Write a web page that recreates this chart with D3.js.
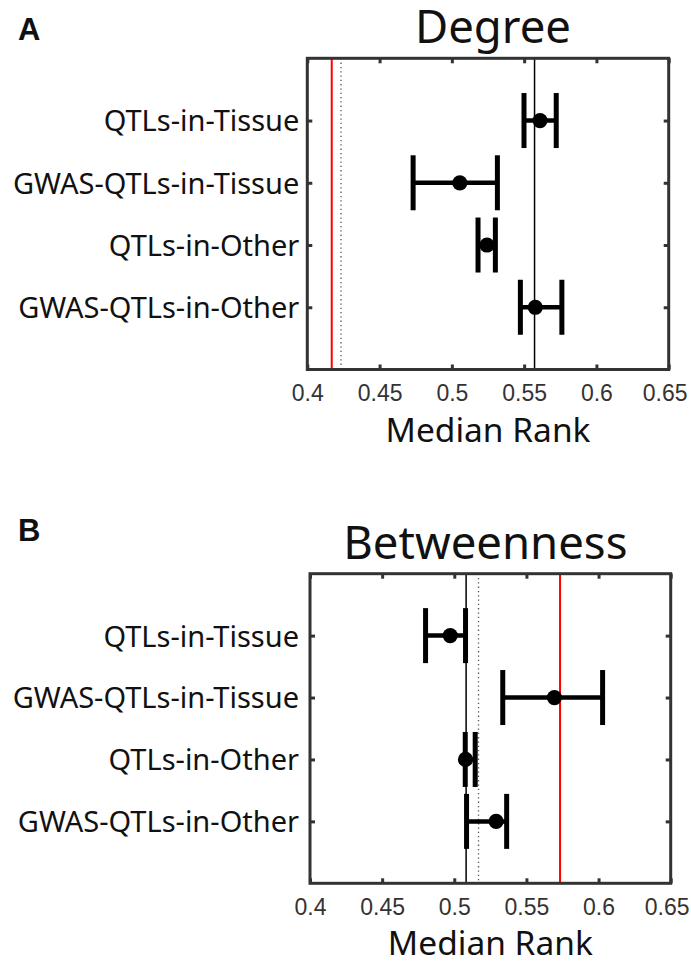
<!DOCTYPE html>
<html>
<head>
<meta charset="utf-8">
<script src="https://cdn.jsdelivr.net/npm/d3@7"></script>
<style>
  body { margin: 0; background: #fff; }
  svg { display: block; }
</style>
</head>
<body>
<script>
// categories (top to bottom)
const categories = ["QTLs-in-Tissue", "GWAS-QTLs-in-Tissue", "QTLs-in-Other", "GWAS-QTLs-in-Other"]
const xTicks = [0.4, 0.45, 0.5, 0.55, 0.6, 0.65]

// A: degree
const degreeMedian = [0.5610, 0.5055, 0.5243, 0.5577]
const degreeLow = [0.5499, 0.4732, 0.5181, 0.5474]
const degreeHigh = [0.5722, 0.5315, 0.5301, 0.5761]
const degreeRed = 0.4169
const degreeDotted = 0.4233
const degreeBlack = 0.5572

// B: betweenness
const betweennessMedian = [0.4972, 0.5694, 0.5078, 0.5290]
const betweennessLow = [0.4801, 0.5336, 0.5076, 0.5085]
const betweennessHigh = [0.5078, 0.6028, 0.5145, 0.5363]
const betweennessRed = 0.5733
const betweennessDotted = 0.5168
const betweennessBlack = 0.5082

const width = 691, height = 965
const labelFont = "'Noto Sans', 'Open Sans', sans-serif"
const tickFont = "'Liberation Sans', Arial, sans-serif"
const frameColor = "#333"

const svg = d3.select("body").append("svg")
  .attr("width", width)
  .attr("height", height)

function panel(o) {
  const x = d3.scaleLinear().domain([0.4, 0.65]).range([o.left, o.right])
  const y = d3.scaleLinear().domain([0, 5]).range([o.top, o.bottom])
  const rows = categories.map((c, i) => ({
    cat: c, row: i + 1, med: o.med[i], lo: o.lo[i], hi: o.hi[i]
  }))

  const g = svg.append("g").attr("id", o.id)

  // panel letter
  g.append("text")
    .attr("x", 18).attr("y", o.letterY)
    .style("font", `bold 31px ${tickFont}`)
    .attr("fill", "#111")
    .text(o.letter)

  // title
  g.append("text")
    .attr("x", (o.left + o.right) / 2 + o.titleDx).attr("y", o.top - 15)
    .attr("text-anchor", "middle")
    .style("font", `45.5px ${labelFont}`)
    .attr("fill", "#111")
    .text(o.title)

  // reference lines
  const refs = g.append("g").attr("id", o.id + "-refs")
  refs.append("line")
    .attr("x1", x(o.dotted)).attr("x2", x(o.dotted))
    .attr("y1", o.top).attr("y2", o.bottom)
    .attr("stroke", "#555").attr("stroke-width", 1.3)
    .attr("stroke-dasharray", "1.3 3")
  refs.append("line")
    .attr("x1", x(o.black)).attr("x2", x(o.black))
    .attr("y1", o.top).attr("y2", o.bottom)
    .attr("stroke", "#000").attr("stroke-width", 1.5)
  refs.append("line")
    .attr("x1", x(o.red)).attr("x2", x(o.red))
    .attr("y1", o.top).attr("y2", o.bottom)
    .attr("stroke", "#f00").attr("stroke-width", 2)

  // error bars
  const capH = 27.5
  const bars = g.append("g").attr("id", o.id + "-bars")
    .selectAll("g").data(rows).enter().append("g")
  bars.append("line")
    .attr("x1", d => x(d.lo)).attr("x2", d => x(d.hi))
    .attr("y1", d => y(d.row)).attr("y2", d => y(d.row))
    .attr("stroke", "#000").attr("stroke-width", 4.5)
  bars.append("line")
    .attr("x1", d => x(d.lo)).attr("x2", d => x(d.lo))
    .attr("y1", d => y(d.row) - capH).attr("y2", d => y(d.row) + capH)
    .attr("stroke", "#000").attr("stroke-width", 5)
  bars.append("line")
    .attr("x1", d => x(d.hi)).attr("x2", d => x(d.hi))
    .attr("y1", d => y(d.row) - capH).attr("y2", d => y(d.row) + capH)
    .attr("stroke", "#000").attr("stroke-width", 5)
  bars.append("circle")
    .attr("cx", d => x(d.med)).attr("cy", d => y(d.row))
    .attr("r", 7.6).attr("fill", "#000")

  // axes
  const styleAxis = a => {
    a.select(".domain").remove()
    a.selectAll(".tick line").attr("stroke", frameColor).attr("stroke-width", 3)
  }
  g.append("g")
    .attr("transform", `translate(0,${o.bottom})`)
    .call(d3.axisBottom(x).tickValues(xTicks).tickSizeInner(-5).tickSizeOuter(0).tickPadding(15).tickFormat(d => String(d)))
    .call(styleAxis)
    .call(a => a.selectAll("text")
      .style("font", `23px ${tickFont}`).attr("fill", "#333")
      .attr("dx", d => d === 0.65 ? -4 : 0))
  g.append("g")
    .attr("transform", `translate(0,${o.top})`)
    .call(d3.axisTop(x).tickValues(xTicks).tickSizeInner(-5).tickSizeOuter(0).tickFormat(""))
    .call(styleAxis)
  g.append("g")
    .attr("transform", `translate(${o.left},0)`)
    .call(d3.axisLeft(y).tickValues([1, 2, 3, 4]).tickSizeInner(-5).tickSizeOuter(0).tickPadding(o.labelPad).tickFormat(i => categories[i - 1]))
    .call(styleAxis)
    .call(a => a.selectAll("text").style("font", `29px ${labelFont}`).attr("fill", "#111").attr("dy", "0.36em"))
  g.append("g")
    .attr("transform", `translate(${o.right},0)`)
    .call(d3.axisRight(y).tickValues([1, 2, 3, 4]).tickSizeInner(-5).tickSizeOuter(0).tickFormat(""))
    .call(styleAxis)

  // frame
  g.append("rect")
    .attr("x", o.left).attr("y", o.top)
    .attr("width", o.right - o.left).attr("height", o.bottom - o.top)
    .attr("fill", "none").attr("stroke", frameColor).attr("stroke-width", 3)

  // x label
  g.append("text")
    .attr("x", (o.left + o.right) / 2).attr("y", o.xLabelY)
    .attr("text-anchor", "middle")
    .style("font", `33.5px ${labelFont}`)
    .attr("fill", "#111")
    .text("Median Rank")
}

panel({
  id: "degree", letter: "A", letterY: 40, title: "Degree", titleDx: 5,
  left: 307.3, right: 668.7, top: 58.3, bottom: 369.5, labelPad: 8, xLabelY: 442,
  med: degreeMedian, lo: degreeLow, hi: degreeHigh,
  red: degreeRed, dotted: degreeDotted, black: degreeBlack
})

panel({
  id: "betweenness", letter: "B", letterY: 541, title: "Betweenness", titleDx: -5,
  left: 310, right: 670.7, top: 573.7, bottom: 883.3, labelPad: 11, xLabelY: 955,
  med: betweennessMedian, lo: betweennessLow, hi: betweennessHigh,
  red: betweennessRed, dotted: betweennessDotted, black: betweennessBlack
})
</script>
</body>
</html>
